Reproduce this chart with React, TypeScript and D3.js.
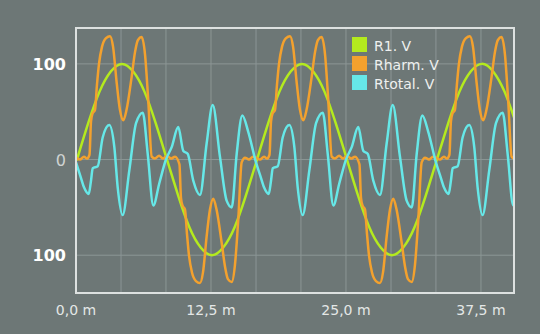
import React from "react";
import { scaleLinear, line, curveMonotoneX, curveNatural } from "d3";

// distance (m), voltage (V)
const r1Points: [number, number][] = [
  [0.09, 0], [1.13, 38], [2.18, 71], [3.22, 92], [4.26, 100], [5.3, 92], [6.34, 71], [7.38, 38],
  [8.42, 0], [9.47, -38], [10.51, -71], [11.55, -92], [12.59, -100], [13.63, -92], [14.68, -71], [15.72, -38],
  [16.76, 0], [17.8, 38], [18.84, 71], [19.88, 92], [20.93, 100], [21.97, 92], [23.01, 71], [24.05, 38],
  [25.09, 0], [26.13, -38], [27.17, -71], [28.22, -92], [29.26, -100], [30.3, -92], [31.34, -71], [32.38, -38],
  [33.42, 0], [34.47, 38], [35.51, 71], [36.55, 92], [37.59, 100], [38.63, 92], [39.68, 71], [40.56, 44],
];

const rharmPoints: [number, number][] = [
  [0, 2], [0.37, 0], [0.74, 3], [1.02, 1], [1.25, 5], [1.39, 40], [1.53, 48], [1.76, 52], [1.94, 78],
  [2.13, 100], [2.41, 118], [2.78, 127], [3.15, 129], [3.43, 118], [3.77, 80], [4.07, 52], [4.38, 41],
  [4.68, 52], [5.16, 87], [5.46, 112], [5.74, 125], [6.08, 128], [6.39, 110], [6.69, 62], [7.01, 3],
  [7.31, 1], [7.69, 4], [8.06, 1], [8.43, 4], [8.8, 1], [9.17, 3], [9.58, -5], [9.72, -40], [9.86, -48],
  [10.09, -52], [10.28, -78], [10.46, -100], [10.74, -118], [11.11, -127], [11.48, -129], [11.76, -118],
  [12.1, -80], [12.41, -52], [12.71, -41], [13.01, -52], [13.49, -87], [13.8, -112], [14.07, -125],
  [14.42, -128], [14.72, -110], [15.03, -62], [15.34, -3], [15.65, 2], [16.02, 0], [16.39, 3],
  [16.67, 2], [17.04, 0], [17.41, 3], [17.69, 1], [17.92, 5], [18.06, 40], [18.2, 48], [18.43, 52],
  [18.61, 78], [18.8, 100], [19.08, 118], [19.45, 127], [19.82, 129], [20.1, 118], [20.44, 80],
  [20.74, 52], [21.05, 41], [21.35, 52], [21.83, 87], [22.13, 112], [22.41, 125], [22.75, 128],
  [23.06, 110], [23.36, 62], [23.68, 3], [23.98, 1], [24.36, 4], [24.73, 1], [25.1, 4], [25.47, 1],
  [25.84, 3], [26.25, -5], [26.39, -40], [26.53, -48], [26.76, -52], [26.95, -78], [27.13, -100],
  [27.41, -118], [27.78, -127], [28.15, -129], [28.43, -118], [28.77, -80], [29.08, -52], [29.38, -41],
  [29.68, -52], [30.16, -87], [30.47, -112], [30.74, -125], [31.09, -128], [31.39, -110], [31.7, -62],
  [32.01, -3], [32.32, 2], [32.69, 0], [33.06, 3],
  [33.33, 2], [33.7, 0], [34.07, 3], [34.35, 1], [34.58, 5], [34.72, 40], [34.86, 48], [35.09, 52],
  [35.27, 78], [35.46, 100], [35.74, 118], [36.11, 127], [36.48, 129], [36.76, 118], [37.1, 80],
  [37.4, 52], [37.71, 41], [38.01, 52], [38.49, 87], [38.79, 112], [39.07, 125], [39.41, 128],
  [39.72, 110], [40.02, 62], [40.34, 3], [40.56, 1],
];

const rtotalPoints: [number, number][] = [
  [0, -3], [0.37, -16], [0.74, -29], [1.18, -36], [1.39, -22], [1.55, -9], [2.01, -7], [2.47, 23],
  [3.08, 36], [3.55, 13], [3.86, -29], [4.32, -58], [4.94, -11], [5.56, 38], [6.18, 49], [6.64, 6],
  [7.16, -48], [7.71, -25], [8.33, 0], [8.86, 13], [9.47, 34], [9.94, 9], [10.34, 6], [10.86, -22],
  [11.48, -37], [12.1, 17], [12.66, 57], [13.33, 3], [13.95, -43], [14.42, -50], [14.88, 6],
  [15.4, 46], [15.95, 29],
  [16.67, -3], [17.04, -16], [17.41, -29], [17.85, -36], [18.06, -22], [18.22, -9], [18.68, -7],
  [19.14, 23], [19.75, 36], [20.22, 13], [20.53, -29], [20.99, -58], [21.61, -11], [22.23, 38],
  [22.85, 49], [23.31, 6], [23.83, -48], [24.38, -25], [25.0, 0], [25.53, 13], [26.14, 34], [26.61, 9],
  [27.01, 6], [27.53, -22], [28.15, -37], [28.77, 17], [29.33, 57], [30.0, 3], [30.62, -43],
  [31.09, -50], [31.55, 6], [32.07, 46], [32.62, 29],
  [33.33, -3], [33.7, -16], [34.07, -29], [34.51, -36], [34.72, -22], [34.88, -9], [35.34, -7],
  [35.8, 23], [36.41, 36], [36.88, 13], [37.19, -29], [37.65, -58], [38.27, -11], [38.89, 38],
  [39.51, 49], [39.97, 6], [40.49, -48], [40.56, -46],
];

const seriesNames = ["R1. V", "Rharm. V", "Rtotal. V"];
const seriesColors = ["#b4ea1e", "#f3a12e", "#66e8e8"];

const xTicks = [0, 12.5, 25, 37.5];
const xTickLabels = ["0,0 m", "12,5 m", "25,0 m", "37,5 m"];
const xGrid = [4.17, 8.33, 12.5, 16.67, 20.83, 25, 29.17, 33.33, 37.5];
const yTicks = [100, 0, -100];
const yTickLabels = ["100", "0", "100"];

const W = 540;
const H = 334;
const left = 76, right = 514, top = 28, bottom = 293;

export default function App() {
  const x = scaleLinear().domain([0, 40.56]).range([left, right]);
  const y = scaleLinear().domain([-139.5, 137.5]).range([bottom, top]);

  const smooth = line<[number, number]>().x((d) => x(d[0])).y((d) => y(d[1])).curve(curveNatural);
  const mono = line<[number, number]>().x((d) => x(d[0])).y((d) => y(d[1])).curve(curveMonotoneX);

  const paths = [smooth(r1Points), mono(rharmPoints), mono(rtotalPoints)];
  const font = "'DejaVu Sans', sans-serif";

  return (
    <svg width={W} height={H} style={{ position: "fixed", left: 0, top: 0, background: "#6d7776" }} fontFamily={font}>
      <rect width={W} height={H} fill="#6d7776" />
      <defs>
        <clipPath id="plot">
          <rect x={left} y={top} width={right - left} height={bottom - top} />
        </clipPath>
      </defs>

      {xGrid.map((v, i) => (
        <line key={i} x1={x(v)} x2={x(v)} y1={top} y2={bottom} stroke="#8c9695" strokeWidth={1} />
      ))}
      {yTicks.map((v, i) => (
        <line key={i} x1={left} x2={right} y1={y(v)} y2={y(v)} stroke="#8c9695" strokeWidth={1} />
      ))}

      <g clipPath="url(#plot)" fill="none" strokeLinejoin="round" strokeLinecap="round">
        {paths.map((p, i) => (
          <path key={i} d={p ?? ""} stroke={seriesColors[i]} strokeWidth={2.5} />
        ))}
      </g>

      <rect x={left} y={top} width={right - left} height={bottom - top} fill="none" stroke="#dde1e0" strokeWidth={2} />

      {yTicks.map((v, i) => (
        <text
          key={i}
          x={66}
          y={y(v) + 6}
          textAnchor="end"
          fontSize={16}
          fontWeight={v === 0 ? 400 : 700}
          fill={v === 0 ? "#cfd3d2" : "#ffffff"}
        >
          {yTickLabels[i]}
        </text>
      ))}

      {xTicks.map((v, i) => (
        <text key={i} x={x(v)} y={315} textAnchor="middle" fontSize={14} fill="#e4e7e6">
          {xTickLabels[i]}
        </text>
      ))}

      {seriesNames.map((name, i) => (
        <g key={name} transform={`translate(352, ${37 + i * 19})`}>
          <rect width={15} height={15} fill={seriesColors[i]} />
          <text x={22} y={13.5} fontSize={14} fill="#eef0ef">
            {name}
          </text>
        </g>
      ))}
    </svg>
  );
}
